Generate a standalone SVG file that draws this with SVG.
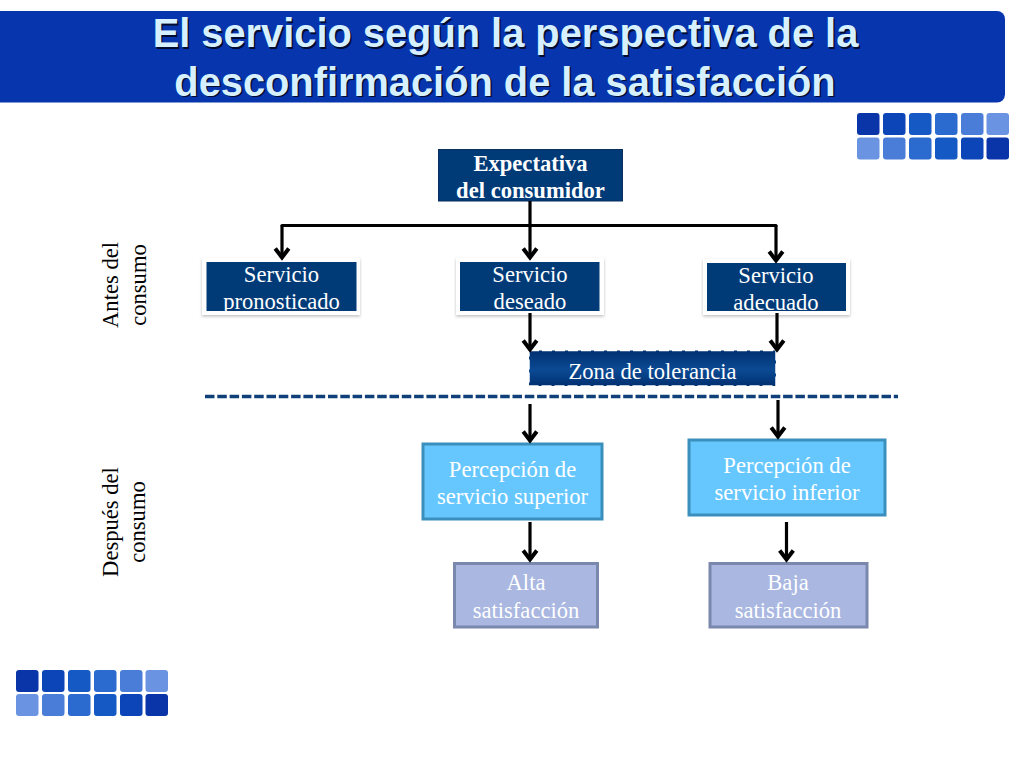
<svg xmlns="http://www.w3.org/2000/svg" width="1024" height="768" viewBox="0 0 1024 768">
<defs>
<style>
.t{font-family:"Liberation Serif","Times New Roman",serif;font-size:22.6px;fill:#fff;text-anchor:middle}
.b{font-weight:bold}
.s{fill:#000;font-size:22.6px;font-family:"Liberation Serif","Times New Roman",serif;text-anchor:middle}
.h{font-family:"Liberation Sans",Arial,sans-serif;font-size:39.8px;font-weight:bold;text-anchor:middle}
.c{fill:none;stroke:#000;stroke-width:3.200}
.d{fill:#003b78}
.g{fill:#fff;filter:url(#sh)}
.p{fill:#66c7ff;stroke:#3a8fbc;stroke-width:3}
.q{fill:#a9b7e1;stroke:#7a88ad;stroke-width:3}
</style>
<marker id="a" markerUnits="userSpaceOnUse" markerWidth="18" markerHeight="16" refX="8" refY="13" viewBox="0 0 16 16"><path d="M1.200 3.500L8 12.500L14.800 3.500" fill="none" stroke="#000" stroke-width="4"/></marker>
<linearGradient id="z" x1="0" y1="0" x2="0" y2="1"><stop offset="0" stop-color="#003070"/><stop offset=".55" stop-color="#0b4a94"/><stop offset="1" stop-color="#003070"/></linearGradient>
<filter id="sh" x="-10%" y="-20%" width="120%" height="140%"><feDropShadow dx="0" dy="1.500" stdDeviation="1.500" flood-color="#000" flood-opacity=".25"/></filter>
<g id="row1"><rect x="0" width="22.500" height="22" rx="3" fill="#0a35a8"/><rect x="26" width="22.500" height="22" rx="3" fill="#0b45b8"/><rect x="52" width="22.500" height="22" rx="3" fill="#1459c4"/><rect x="78" width="22.500" height="22" rx="3" fill="#2b6bd0"/><rect x="104" width="22.500" height="22" rx="3" fill="#4a7dd8"/><rect x="129.500" width="22.500" height="22" rx="3" fill="#6a94e2"/></g>
<g id="row2"><rect x="0" width="22.500" height="22" rx="3" fill="#6a94e2"/><rect x="26" width="22.500" height="22" rx="3" fill="#4a7dd8"/><rect x="52" width="22.500" height="22" rx="3" fill="#2b6bd0"/><rect x="78" width="22.500" height="22" rx="3" fill="#1459c4"/><rect x="104" width="22.500" height="22" rx="3" fill="#0b45b8"/><rect x="129.500" width="22.500" height="22" rx="3" fill="#0a35a8"/></g>
</defs>
<rect width="1024" height="768" fill="#fff"/>
<g id="banner">
<rect x="-10" y="11" width="1015" height="91.500" rx="8" fill="#0635ad"/>
<g class="h" fill="#000c30"><text x="507" y="48.500">El servicio según la perspectiva de la</text><text x="506.500" y="97">desconfirmación de la satisfacción</text></g>
<g class="h" fill="#d6f0ff"><text x="505.500" y="47">El servicio según la perspectiva de la</text><text x="505" y="95.500">desconfirmación de la satisfacción</text></g>
</g>
<g id="decor-top"><use href="#row1" x="857" y="113"/><use href="#row2" x="857" y="137.500"/></g>
<g id="decor-bottom"><use href="#row1" x="16" y="670"/><use href="#row2" x="16" y="694"/></g>
<g id="separator"><path d="M205 396.500H898" stroke="#0f4079" stroke-width="3.500" stroke-dasharray="9.500 2.800" fill="none"/></g>
<g id="expectativa"><rect x="438.500" y="149.500" width="184" height="51.500" class="d" stroke="#0b2f5e" stroke-width="1"/><text class="t b" x="530.500" y="170.500">Expectativa</text><text class="t b" x="530.500" y="197.500">del consumidor</text></g>
<g id="pronosticado"><rect x="202" y="258" width="158" height="57" class="g"/><rect x="206.500" y="262" width="150" height="49" class="d"/><text class="t" x="281.500" y="282">Servicio</text><text class="t" x="281.500" y="309">pronosticado</text></g>
<g id="deseado"><rect x="456" y="258" width="148" height="57" class="g"/><rect x="460" y="262" width="139.500" height="49" class="d"/><text class="t" x="530" y="282">Servicio</text><text class="t" x="530" y="309">deseado</text></g>
<g id="adecuado"><rect x="703" y="259" width="147" height="56" class="g"/><rect x="707" y="263" width="139" height="48" class="d"/><text class="t" x="776" y="282.500">Servicio</text><text class="t" x="776" y="309.500">adecuado</text></g>
<g id="zona"><rect x="529" y="350.500" width="247" height="35.500" fill="url(#z)" stroke="#fff" stroke-width="1.500" stroke-dasharray="10 3"/><text class="t" x="652.500" y="378.500">Zona de tolerancia</text></g>
<g id="percepcion-superior"><rect x="423" y="444" width="179" height="75" class="p"/><text class="t" x="512.500" y="476.500">Percepción de</text><text class="t" x="512.500" y="504">servicio superior</text></g>
<g id="percepcion-inferior"><rect x="689" y="440" width="196" height="75" class="p"/><text class="t" x="787" y="472.500">Percepción de</text><text class="t" x="787" y="499.500">servicio inferior</text></g>
<g id="alta"><rect x="454.500" y="563.500" width="143" height="63.500" class="q"/><text class="t" x="526" y="590">Alta</text><text class="t" x="526" y="618">satisfacción</text></g>
<g id="baja"><rect x="710" y="563.500" width="157" height="63.500" class="q"/><text class="t" x="788" y="590">Baja</text><text class="t" x="788" y="618">satisfacción</text></g>
<g id="lado-antes"><text class="s" transform="translate(118,285) rotate(-90)">Antes del</text><text class="s" transform="translate(145.500,285) rotate(-90)">consumo</text></g>
<g id="lado-despues"><text class="s" transform="translate(118,522) rotate(-90)">Después del</text><text class="s" transform="translate(145,522) rotate(-90)">consumo</text></g>
<g id="connectors">
<path class="c" d="M530 201V258" marker-end="url(#a)"/>
<path class="c" d="M776 225.500H282" stroke-linecap="round"/>
<path class="c" d="M282 225.500V258" marker-end="url(#a)"/>
<path class="c" d="M776 225.500V261" marker-end="url(#a)"/>
<path class="c" d="M530 313V350" marker-end="url(#a)"/>
<path class="c" d="M777 313V350" marker-end="url(#a)"/>
<path class="c" d="M530 404V441" marker-end="url(#a)"/>
<path class="c" d="M778 400V437" marker-end="url(#a)"/>
<path class="c" d="M530 522V560" marker-end="url(#a)"/>
<path class="c" d="M786.500 522V560" marker-end="url(#a)"/>
</g>
</svg>
